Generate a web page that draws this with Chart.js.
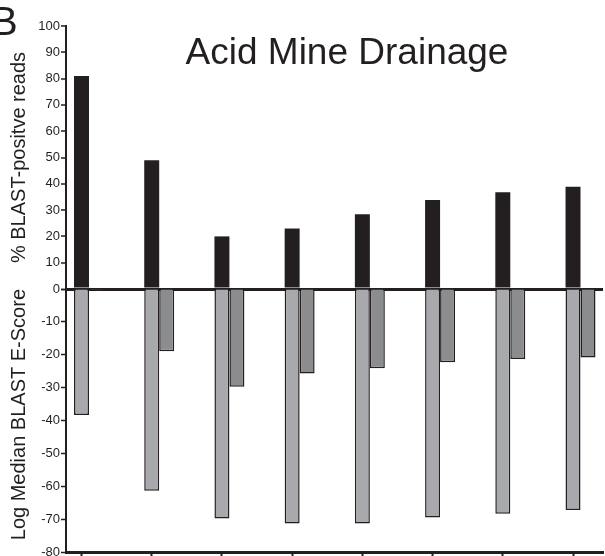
<!DOCTYPE html>
<html>
<head>
<meta charset="utf-8">
<script src="https://cdn.jsdelivr.net/npm/chart.js@4.4.1/dist/chart.umd.min.js"></script>
<style>
  html, body { margin: 0; padding: 0; background: #fff; }
  #wrap { width: 605px; height: 556px; position: relative; }
</style>
</head>
<body>
<div id="wrap"><canvas id="chart"></canvas></div>
<script>
// sample positions along the x axis (labels are cut off in the figure)
var categories = [1, 2, 3, 4, 5, 6, 7, 8];
// % BLAST-positive reads (top half)
var blastPositive = [81, 49, 20, 23, 28.4, 33.8, 36.8, 38.9];
// log median BLAST E-score (bottom half), two series
var medianScoreA = [-38.3, -61.4, -69.8, -71.3, -71.3, -69.5, -68.4, -67.2];
var medianScoreB = [-0.3, -18.9, -29.7, -25.7, -24.1, -22.3, -21.3, -20.8];

var ink = '#231f20';
var font = "'Liberation Sans', Arial, Helvetica, sans-serif";

function points(values) {
    return categories.map(function (c, i) { return { x: c, y: values[i] }; });
}

var labelsPlugin = {
    id: 'panelText',
    afterDraw: function (chart) {
        var ctx = chart.ctx;
        ctx.save();
        ctx.fillStyle = ink;
        ctx.textBaseline = 'alphabetic';
        ctx.textAlign = 'left';
        ctx.font = '40px ' + font;
        ctx.fillText('B', -9, 35);
        ctx.textAlign = 'center';
        ctx.font = '37px ' + font;
        ctx.fillText('Acid Mine Drainage', 347, 64);
        ctx.restore();
    }
};

function noPadding(scale) {
    scale.width = 66;
    scale.paddingTop = 0;
    scale.paddingBottom = 0;
}

new Chart(document.getElementById('chart'), {
    type: 'bar',
    data: {
        datasets: [
            {
                label: 'spacer',
                data: categories.map(function (c) { return { x: c, y: null }; }),
                yAxisID: 'yTop',
                stack: 'spacer',
                backgroundColor: 'rgba(0,0,0,0)'
            },
            {
                label: '% BLAST-positive reads',
                data: points(blastPositive),
                yAxisID: 'yTop',
                stack: 'main',
                backgroundColor: ink,
                borderWidth: 0
            },
            {
                label: 'Log Median BLAST E-Score A',
                data: points(medianScoreA),
                yAxisID: 'yBot',
                stack: 'main',
                backgroundColor: '#a7a9ac',
                borderColor: ink,
                borderWidth: 1.5
            },
            {
                label: 'Log Median BLAST E-Score B',
                data: points(medianScoreB),
                yAxisID: 'yBot',
                stack: 'side',
                backgroundColor: '#8a8c8e',
                borderColor: ink,
                borderWidth: 1.5
            }
        ]
    },
    options: {
        responsive: true,
        maintainAspectRatio: false,
        animation: false,
        categoryPercentage: 0.64,
        barPercentage: 1,
        layout: { padding: { top: 26, right: 2, bottom: 0, left: 0 } },
        plugins: {
            legend: { display: false },
            tooltip: { enabled: false }
        },
        scales: {
            x: {
                type: 'linear',
                stacked: true,
                offset: false,
                min: 0.7793,
                max: 8.427,
                afterBuildTicks: function (scale) {
                    scale.ticks = categories.map(function (c) { return { value: c }; });
                },
                afterFit: function (scale) { scale.height = 4; },
                ticks: { display: false },
                grid: {
                    offset: false,
                    drawOnChartArea: false,
                    drawTicks: true,
                    tickLength: 4,
                    tickColor: ink,
                    tickWidth: 2
                },
                border: { color: ink, width: 3 }
            },
            yBot: {
                type: 'linear',
                position: 'left',
                stack: 'halves',
                stackWeight: 1,
                stacked: false,
                min: -80,
                max: 0,
                afterFit: noPadding,
                ticks: {
                    count: 9,
                    autoSkip: false,
                    padding: 1,
                    color: ink,
                    font: { family: font, size: 13 },
                    callback: function (v) { return v === 0 ? '' : v; }
                },
                grid: {
                    drawOnChartArea: false,
                    tickColor: ink,
                    tickWidth: 1.5,
                    tickLength: 5
                },
                border: { color: ink, width: 2 },
                title: {
                    display: true,
                    text: 'Log Median BLAST E-Score',
                    align: 'end',
                    color: ink,
                    font: { family: font, size: 20 },
                    padding: { top: 7, bottom: 0 }
                }
            },
            yTop: {
                type: 'linear',
                position: 'left',
                stack: 'halves',
                stackWeight: 1,
                stacked: false,
                z: 1,
                min: 0,
                max: 100,
                afterFit: noPadding,
                ticks: {
                    count: 11,
                    autoSkip: false,
                    padding: 1,
                    color: ink,
                    font: { family: font, size: 13 }
                },
                grid: {
                    color: function (ctx) { return ctx.tick && ctx.tick.value === 0 ? ink : 'rgba(0,0,0,0)'; },
                    lineWidth: function (ctx) { return ctx.tick && ctx.tick.value === 0 ? 3 : 0; },
                    tickColor: ink,
                    tickWidth: 1.5,
                    tickLength: 5
                },
                border: { color: ink, width: 2 },
                title: {
                    display: true,
                    text: '% BLAST-positve reads',
                    color: ink,
                    font: { family: font, size: 20 },
                    padding: { top: 7, bottom: 0 }
                }
            }
        }
    },
    plugins: [labelsPlugin]
});
</script>
</body>
</html>
